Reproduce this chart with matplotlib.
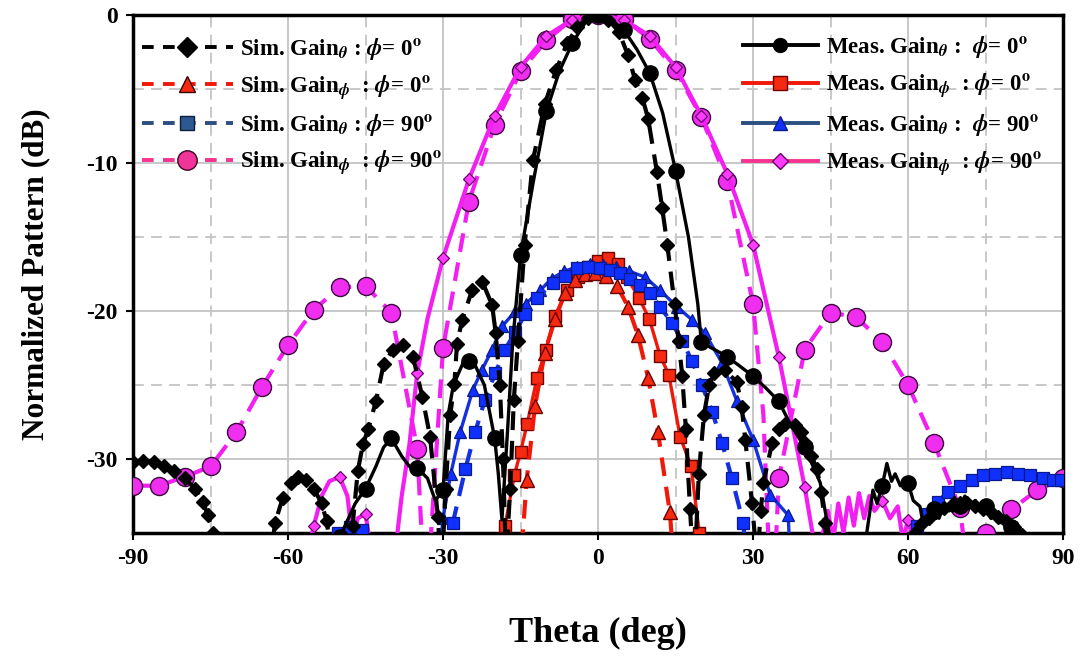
import numpy as np
import matplotlib
matplotlib.use("Agg")
import matplotlib.pyplot as plt
from matplotlib.lines import Line2D

plt.rcParams['font.family'] = ['Liberation Serif', 'DejaVu Serif']
plt.rcParams['font.weight'] = 'bold'
plt.rcParams['mathtext.fontset'] = 'stix'
plt.rcParams['axes.unicode_minus'] = False

# ---------------- data (theta in deg, normalized pattern in dB) ----------------
sim_th_phi0_theta = [-90, -88, -86, -84, -82, -80, -78, -76.5, -75.5, -74.5, -73.5,
                     -68, -63.5, -62.5, -61, -59.5, -58, -56.5, -55, -53.5, -52.5, -51.5,
                     -49, -47.5, -46.5, -45.5, -44.5, -43, -41.5, -39.7, -37.7, -35.8, -34, -32.5, -31, -30.3,
                     -29.5, -28.6, -27.8, -27.3, -26.3, -24.4, -22.4, -20.5, -19.8, -19, -18.4, -17.8,
                     -17, -16.3, -15.5, -14.2, -12.6, -10.3, -8.1, -6, -4, -2, 0, 2, 4, 5.8, 7.2, 8.6,
                     9.7, 11.4, 12.4, 13.4, 14.8, 15.6, 16.3, 17, 17.8, 18.6,
                     19.5, 20.5, 21.5, 22.5, 24.5, 26.9, 27.8, 28.5, 29.8, 30.8,
                     31.5, 32, 33.7, 35, 36.2, 38.1, 39.2, 40.1, 41.3, 42.4, 43.2, 43.9, 44.8,
                     60, 61.3, 62.5, 64, 65.5, 67, 68.5, 70, 71.5, 73, 74.5, 76, 77.5, 79, 80.5, 82, 83.5]
sim_th_phi0_db = [-30.2, -30.1, -30.2, -30.5, -30.8, -31.3, -32.0, -32.9, -33.8, -35.0, -37.0,
                  -42, -37.0, -34.3, -32.6, -31.6, -31.2, -31.4, -32.0, -33.0, -34.2, -37.0,
                  -40, -34.5, -30.8, -29.0, -28.0, -26.1, -23.6, -22.6, -22.3, -23.1, -25.8, -28.5, -33.9, -38,
                  -32.0, -27.0, -24.9, -22.2, -20.6, -18.6, -18.0, -19.6, -21.5, -25.0, -30.0, -37.0,
                  -32.0, -26.0, -22.0, -15.5, -9.8, -6.0, -3.7, -1.9, -0.8, -0.2, 0.0, -0.3, -1.1, -2.7, -4.4, -5.6,
                  -7.0, -10.6, -13.0, -15.5, -19.5, -22.0, -24.4, -28.0, -33.4, -38,
                  -31.0, -27.0, -25.0, -24.2, -24.0, -24.8, -26.5, -28.7, -33.0, -37.0,
                  -33.5, -31.6, -28.9, -28.0, -27.6, -27.7, -28.2, -28.9, -29.8, -30.7, -32.2, -34.3, -38,
                  -40, -35.0, -34.4, -34.0, -33.6, -33.3, -33.1, -33.0, -33.0, -33.2, -33.4, -33.6, -33.9, -34.2, -34.6, -35.1, -36.0]

sim_ph_phi0_theta = [-15.6, -13.8, -12.2, -10.3, -8.3, -6.4, -4.5, -2.5, -0.5, 1.6, 3.7, 5.8, 7.7, 9.7, 11.6, 13.9, 15.3]
sim_ph_phi0_db = [-40, -31.4, -26.4, -22.8, -20.5, -18.8, -17.9, -17.5, -17.4, -17.6, -18.3, -19.7, -21.6, -24.5, -28.2, -33.6, -40]

meas_ph_phi0_theta = [-19.5, -18, -16.2, -15, -13.7, -11.8, -10.1, -8.3, -6, -3.9, -2, 0, 2, 3.8, 5.6, 7.9, 9.9, 12, 13.7, 15.9, 18, 19.6, 20.5]
meas_ph_phi0_db = [-40, -34.5, -31.1, -29.5, -27.6, -24.5, -22.6, -20.3, -18.6, -17.7, -17.0, -16.6, -16.4, -16.8, -17.7, -19.1, -20.5, -23.0, -24.3, -28.5, -30.5, -35.0, -40]

sim_th_phi90_theta = [-53, -50.3, -48, -45.7, -44, -42,
                      -30, -28.1, -25.7, -23.8, -21.9, -19.9, -18, -16, -14.1, -11.8, -8.7, -6.4, -4.1, -2,
                      0.4, 2.3, 4.3, 6.2, 8.2, 10.1, 12, 14.3, 16.3, 18.2, 20.1, 22.1, 24, 25.9, 28.1, 29.5,
                      58, 60.5, 61.7, 63.9, 65.8, 67.7, 70.1, 72.4, 74.5, 76.8, 79.2, 81.3, 83.6, 86.1, 88, 89.6]
sim_th_phi90_db = [-40, -35.0, -34.6, -34.8, -36, -40,
                   -40, -34.3, -30.7, -28.2, -26.0, -24.2, -22.6, -21.4, -20.2, -19.1, -18.1, -17.6, -17.1, -17.0,
                   -17.1, -17.2, -17.4, -17.8, -18.2, -18.8, -19.7, -20.8, -22.0, -23.4, -25.0, -26.8, -28.9, -31.3, -34.3, -40,
                   -40, -36.0, -34.5, -33.7, -32.9, -32.2, -31.8, -31.4, -31.1, -31.0, -30.9, -31.0, -31.1, -31.3, -31.4, -31.4]

meas_th_phi90_theta = [-31.5, -30, -28.5, -26.7, -24.2, -22.5, -20.5, -18.5, -16, -14, -11.2, -9, -6.5, -4, -1.5,
                       1, 3.5, 6, 9.1, 12, 15.3, 18.2, 20.7, 24, 26.9, 30, 33.3, 36.8, 37.6]
meas_th_phi90_db = [-40, -34.0, -31.0, -28.2, -25.3, -24.0, -22.6, -21.0, -20.0, -19.5, -18.6, -17.8, -17.3, -17.0, -16.8,
                    -16.9, -17.0, -17.3, -17.7, -18.6, -19.7, -20.6, -21.5, -23.5, -26.1, -28.7, -32.4, -33.8, -40]

sim_ph_phi90_theta = [-90, -85, -80, -75, -70, -65, -60, -55, -50, -45, -40, -35, -34, -33.3, -32.5,
                      -30, -25, -20, -15, -10, -5, 0, 5, 10, 15, 20, 25, 30, 32, 33.5, 34.5,
                      35, 40, 45, 50, 55, 60, 65, 70, 72.5, 74.5, 75, 80, 85, 90]
sim_ph_phi90_db = [-31.8, -31.8, -31.2, -30.5, -28.2, -25.1, -22.3, -19.9, -18.4, -18.3, -20.1, -29.3, -36, -45, -36,
                   -22.5, -12.6, -7.4, -3.8, -1.7, -0.25, 0.0, -0.25, -1.6, -3.7, -6.9, -11.2, -19.5, -27, -40, -35,
                   -31.3, -22.6, -20.1, -20.4, -22.1, -25.0, -28.9, -33.3, -40, -37, -35.0, -33.4, -32.1, -31.3]

meas_ph_phi90_theta = [-58, -56, -55, -53.5, -52, -50, -48.5, -47.5, -46.5, -45, -44, -42.5,
                       -40, -39, -38, -36.5, -35, -33, -30, -25, -20, -15, -10, -5, 0, 5, 10, 15, 20, 25, 30, 35, 37.5, 40,
                       41.6, 42.3, 43.5, 44.5, 45.5, 46.5, 47.5, 48.5, 49.5, 50.5, 51.5, 52.5, 53.5, 55, 56.5, 58, 59, 60, 61, 62.5]
meas_ph_phi90_db = [-40, -36, -34.5, -32.5, -31.5, -31.2, -32.5, -35.5, -34, -33.7, -36, -40,
                    -40, -35.5, -32.5, -29, -24.2, -20.5, -16.4, -11.1, -6.8, -3.5, -1.4, -0.3, 0.0, -0.3, -1.4, -3.5, -6.8, -10.7, -15.5, -23.1, -27.5, -31.9,
                    -35.2, -40, -35, -33.5, -35.5, -33.0, -35.0, -32.6, -34.5, -32.3, -34.0, -32.5, -33.5, -32.8, -34.0, -33.2, -35.5, -34.1, -35.5, -40]

meas_th_phi0_theta = [-53, -50, -47, -45, -43, -41.5, -40, -38, -36.5, -35, -33, -31.5, -30, -29, -28, -26, -25, -24, -22,
                      -20, -19.3, -18.6, -17.5, -16.5, -15, -12.5, -10, -7.5, -5, -2.5, 0, 2.5, 5, 7.5, 10, 12.5, 15,
                      17.5, 19.3, 20, 22, 23.6, 25, 27, 30, 32.5, 35, 37, 40, 43, 44.2, 45.5,
                      51, 52, 53.2, 54, 55, 55.9, 56.8, 57.5, 58.5, 60, 61, 62.3, 63, 64, 65, 66, 67, 68, 69, 70,
                      71, 72, 73, 74, 75, 76, 77, 78, 79, 80, 81, 82, 83, 84]
meas_th_phi0_db = [-40, -35.3, -33.0, -32.0, -30.5, -29.2, -28.6, -29.8, -30.5, -30.6, -31.3, -32.8, -32.1, -27.0, -25.0, -23.4, -23.4, -23.5, -25.0,
                   -28.6, -31.0, -34.1, -28.0, -22.0, -16.2, -11.2, -6.5, -3.8, -1.9, -0.5, 0.0, -0.3, -1.0, -2.3, -3.9, -6.6, -10.5,
                   -15.0, -19.5, -22.1, -22.5, -22.8, -23.1, -23.6, -24.4, -25.2, -26.1, -27.5, -29.2, -31.6, -34.0, -36.5,
                   -40, -35.0, -32.1, -33.0, -31.8, -30.3, -31.5, -31.0, -31.8, -31.6, -32.8, -33.2, -34.5, -33.8, -33.4, -34.0, -33.0, -33.5, -32.6, -33.2,
                   -32.5, -33.1, -32.8, -33.5, -33.2, -34.0, -33.6, -34.3, -33.9, -34.6, -34.3, -35.0, -35.5, -37.0]


def every5(theta):
    return [i for i, t in enumerate(theta) if abs(t / 5 - round(t / 5)) < 1e-6]


fig = plt.figure(figsize=(10.84, 6.63), dpi=100)
ax = fig.add_axes([0.1227, 0.196, 0.858, 0.781])

dash = (0, (4.5, 2.6))
LW = 2.4

# magenta: phi-gain at phi = 90
ax.plot(sim_ph_phi90_theta, sim_ph_phi90_db, linestyle=dash, color='#F21EF2', lw=LW + 0.6,
        marker='o', ms=13, mfc='#F02EF0', mec='#3d0a3d', mew=1.0, markevery=every5(sim_ph_phi90_theta), zorder=3)
ax.plot(meas_ph_phi90_theta, meas_ph_phi90_db, linestyle='-', color='#F21EF2', lw=LW + 0.6,
        marker='D', ms=6.5, mfc='#FF3CFF', mec='#6a006a', mew=0.9, markevery=every5(meas_ph_phi90_theta), zorder=3)

# red: phi-gain at phi = 0
ax.plot(meas_ph_phi0_theta, meas_ph_phi0_db, linestyle='-', color='#F01808', lw=LW,
        marker='s', ms=9, mfc='#F52A10', mec='#6b0000', mew=1.0, zorder=4)
ax.plot(sim_ph_phi0_theta, sim_ph_phi0_db, linestyle=dash, color='#F01808', lw=LW + 0.6,
        marker='^', ms=10, mfc='#F52A10', mec='#6b0000', mew=1.0, zorder=4)

# blue: theta-gain at phi = 90
ax.plot(meas_th_phi90_theta, meas_th_phi90_db, linestyle='-', color='#1530E0', lw=LW,
        marker='^', ms=9, mfc='#1030FF', mec='#0a1a8a', mew=0.9, zorder=5)
ax.plot(sim_th_phi90_theta, sim_th_phi90_db, linestyle=dash, color='#1530E0', lw=LW + 0.6,
        marker='s', ms=8, mfc='#1030FF', mec='#0a1a8a', mew=0.9, zorder=5)

# black: theta-gain at phi = 0
ax.plot(sim_th_phi0_theta, sim_th_phi0_db, linestyle=dash, color='black', lw=LW + 0.6,
        marker='D', ms=7, mfc='black', mec='black', zorder=6)
ax.plot(meas_th_phi0_theta, meas_th_phi0_db, linestyle='-', color='black', lw=LW,
        marker='o', ms=11, mfc='black', mec='black', markevery=every5(meas_th_phi0_theta), zorder=6)

# axes, ticks and grid
ax.set_xlim(-90, 90)
ax.set_ylim(-35, 0)
ax.set_xticks(np.arange(-90, 91, 30))
ax.set_xticks(np.arange(-75, 90, 30), minor=True)
ax.set_yticks([-30, -20, -10, 0])
ax.set_yticks([-35, -25, -15, -5], minor=True)
ax.grid(which='major', color='#c4c4c4', lw=1.3, ls='-')
ax.grid(which='minor', color='#c4c4c4', lw=1.3, ls=(0, (6, 4)))
ax.set_axisbelow(True)
for s in ax.spines.values():
    s.set_linewidth(2.5)
ax.tick_params(which='major', direction='out', length=5, width=1.5, labelsize=17, pad=6)
ax.tick_params(which='minor', length=0)
for lab in ax.get_xticklabels() + ax.get_yticklabels():
    lab.set_fontweight('bold')

ax.set_xlabel('Theta (deg)', fontsize=26, fontweight='bold', labelpad=34)
ax.set_ylabel('Normalized Pattern (dB)', fontsize=22.5, fontweight='bold', labelpad=26)

# legends
hdash = (0, (3.0, 2.4))
sim_handles = [
    Line2D([], [], linestyle=hdash, color='black', lw=2.8, marker='D', ms=10, mfc='black', mec='black'),
    Line2D([], [], linestyle=hdash, color='#F01808', lw=2.8, marker='^', ms=12, mfc='#F52A10', mec='#3a0000'),
    Line2D([], [], linestyle=hdash, color='#2C4E80', lw=2.8, marker='s', ms=10, mfc='#2C5A90', mec='#0d1d3a'),
    Line2D([], [], linestyle=hdash, color='#F5348E', lw=2.8, marker='o', ms=14, mfc='#F0359A', mec='#3a0a20'),
]
sim_labels = [r'Sim. Gain$_\theta$ : $\phi$= 0$^{\rm o}$',
              r'Sim. Gain$_\phi$  : $\phi$= 0$^{\rm o}$',
              r'Sim. Gain$_\theta$ : $\phi$= 90$^{\rm o}$',
              r'Sim. Gain$_\phi$  : $\phi$= 90$^{\rm o}$']
meas_handles = [
    Line2D([], [], linestyle='-', color='black', lw=2.8, marker='o', ms=10, mfc='black', mec='black'),
    Line2D([], [], linestyle='-', color='#F01808', lw=2.8, marker='s', ms=10, mfc='#F52A10', mec='#6b0000'),
    Line2D([], [], linestyle='-', color='#2C4E80', lw=2.8, marker='^', ms=10, mfc='#1030FF', mec='#0a1a8a'),
    Line2D([], [], linestyle='-', color='#F5348E', lw=2.8, marker='D', ms=8, mfc='#FF3CFF', mec='#6a006a'),
]
meas_labels = [r'Meas. Gain$_\theta$ :  $\phi$= 0$^{\rm o}$',
               r'Meas. Gain$_\phi$  : $\phi$= 0$^{\rm o}$',
               r'Meas. Gain$_\theta$ :  $\phi$= 90$^{\rm o}$',
               r'Meas. Gain$_\phi$  : $\phi$= 90$^{\rm o}$']

leg1 = ax.legend(sim_handles, sim_labels, loc='upper left', bbox_to_anchor=(-0.008, 0.99),
                 frameon=False, handlelength=4.0, handletextpad=0.3,
                 labelspacing=0.45, borderaxespad=0.3, prop={'weight': 'bold', 'size': 16.5})
ax.add_artist(leg1)
leg2 = ax.legend(meas_handles, meas_labels, loc='upper right', bbox_to_anchor=(0.995, 0.995),
                 frameon=False, handlelength=3.3, handletextpad=0.35,
                 labelspacing=0.5, borderaxespad=0.3, prop={'weight': 'bold', 'size': 16.5})
for lg in (leg1, leg2):
    lg.set_zorder(10)

fig.savefig('out.png', dpi=100)
